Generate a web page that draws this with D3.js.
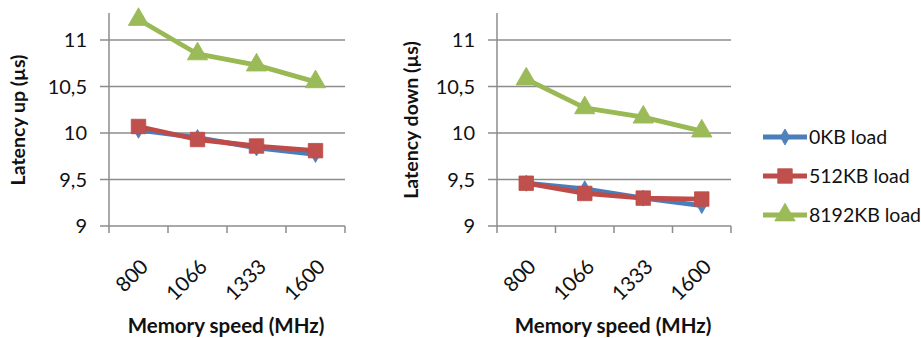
<!DOCTYPE html>
<html>
<head>
<meta charset="utf-8">
<script src="https://cdn.jsdelivr.net/npm/d3@7"></script>
<style>
  html, body { margin: 0; padding: 0; background: #fff; }
  svg { display: block; font-family: Lato, "Open Sans", sans-serif; }
</style>
</head>
<body>
<svg id="chart" width="921" height="338"></svg>
<script>
// Memory speed categories (MHz)
const speeds = ["800", "1066", "1333", "1600"];
const seriesNames = ["0KB load", "512KB load", "8192KB load"];

// Latency up (µs)
const upLoad0    = [10.03, 9.95, 9.84, 9.77];
const upLoad512  = [10.07, 9.93, 9.86, 9.81];
const upLoad8192 = [11.22, 10.85, 10.73, 10.55];

// Latency down (µs)
const downLoad0    = [9.46, 9.40, 9.30, 9.22];
const downLoad512  = [9.46, 9.35, 9.30, 9.29];
const downLoad8192 = [10.58, 10.27, 10.17, 10.02];

const yTicks = [9, 9.5, 10, 10.5, 11];

const colors = {
  line:   ["#4A7EBB", "#BE4B48", "#98B954"],
  marker: ["#4F81BD", "#C0504D", "#9BBB59"]
};
const shapes = [d3.symbolDiamond, d3.symbolSquare, d3.symbolTriangle];
const shapeSizes = [75, 210, 180];

const svg = d3.select("#chart");
const gridColor = "#8c8c8c";
const textColor = "#111";

function drawPanel(opts) {
  const { left, right, title, titleX, series } = opts;
  const bottom = 226, axisTop = 13;
  const x = d3.scaleBand().domain(speeds).range([left, right]);
  const y = d3.scaleLinear().domain([9, 11]).range([bottom, 40]);
  const g = svg.append("g");

  // horizontal gridlines
  g.selectAll("line.grid").data(yTicks).join("line")
    .attr("x1", left - 9).attr("x2", right)
    .attr("y1", d => y(d)).attr("y2", d => y(d))
    .attr("stroke", gridColor).attr("stroke-width", 1.5);

  // vertical axis line
  g.append("line")
    .attr("x1", left).attr("x2", left)
    .attr("y1", axisTop).attr("y2", bottom + 7)
    .attr("stroke", gridColor).attr("stroke-width", 1.5);

  // category tick marks between bands
  const bounds = speeds.map(s => x(s)).concat([right]);
  g.selectAll("line.xtick").data(bounds.slice(1)).join("line")
    .attr("x1", d => d).attr("x2", d => d)
    .attr("y1", bottom).attr("y2", bottom + 7)
    .attr("stroke", gridColor).attr("stroke-width", 1.5);

  // y tick labels
  g.selectAll("text.ytick").data(yTicks).join("text")
    .attr("x", left - 22).attr("y", d => y(d))
    .attr("dy", "0.36em")
    .attr("text-anchor", "end")
    .attr("font-size", 20).attr("fill", textColor)
    .text(d => String(d).replace(".", ","));

  // x tick labels, rotated
  g.selectAll("text.xtick").data(speeds).join("text")
    .attr("transform", d => `translate(${x(d) + x.bandwidth() / 2 + 11},${bottom + 42}) rotate(-45)`)
    .attr("text-anchor", "end")
    .attr("font-size", 20.5).attr("fill", textColor)
    .text(d => d);

  // axis titles
  g.append("text")
    .attr("transform", `translate(${titleX},120) rotate(-90)`)
    .attr("text-anchor", "middle").attr("dy", "0.35em")
    .attr("font-size", 19.5).attr("font-weight", "bold").attr("fill", textColor)
    .text(title);
  g.append("text")
    .attr("x", (left + right) / 2 - 1).attr("y", 326).attr("dy", "0.35em")
    .attr("text-anchor", "middle")
    .attr("font-size", 20.5).attr("font-weight", "bold").attr("fill", textColor)
    .text("Memory speed (MHz)");

  const cx = d => x(d) + x.bandwidth() / 2;
  const line = d3.line().x((v, i) => cx(speeds[i])).y(v => y(v));

  series.forEach((vals, si) => {
    g.append("path")
      .attr("d", line(vals))
      .attr("fill", "none")
      .attr("stroke", colors.line[si])
      .attr("stroke-width", 4.8)
      .attr("stroke-linejoin", "round");
    g.selectAll(null).data(vals).join("path")
      .attr("transform", (v, i) => `translate(${cx(speeds[i])},${y(v)})`)
      .attr("d", d3.symbol().type(shapes[si]).size(shapeSizes[si]))
      .attr("fill", colors.marker[si])
      .attr("stroke", colors.line[si])
      .attr("stroke-width", 0.8);
  });
}

drawPanel({ left: 109, right: 345, title: "Latency up (µs)", titleX: 18,
  series: [upLoad0, upLoad512, upLoad8192] });
drawPanel({ left: 497, right: 731, title: "Latency down (µs)", titleX: 411,
  series: [downLoad0, downLoad512, downLoad8192] });

// legend
const legendY = [137, 176, 215];
const legend = svg.append("g");
seriesNames.forEach((name, si) => {
  const ly = legendY[si];
  legend.append("line")
    .attr("x1", 763).attr("x2", 807).attr("y1", ly).attr("y2", ly)
    .attr("stroke", colors.line[si]).attr("stroke-width", 4.8);
  legend.append("path")
    .attr("transform", `translate(785,${ly})`)
    .attr("d", d3.symbol().type(shapes[si]).size(shapeSizes[si]))
    .attr("fill", colors.marker[si])
    .attr("stroke", colors.line[si]).attr("stroke-width", 0.8);
  legend.append("text")
    .attr("x", 809).attr("y", ly).attr("dy", "0.36em")
    .attr("font-size", 19.5).attr("fill", textColor)
    .text(name);
});
</script>
</body>
</html>
